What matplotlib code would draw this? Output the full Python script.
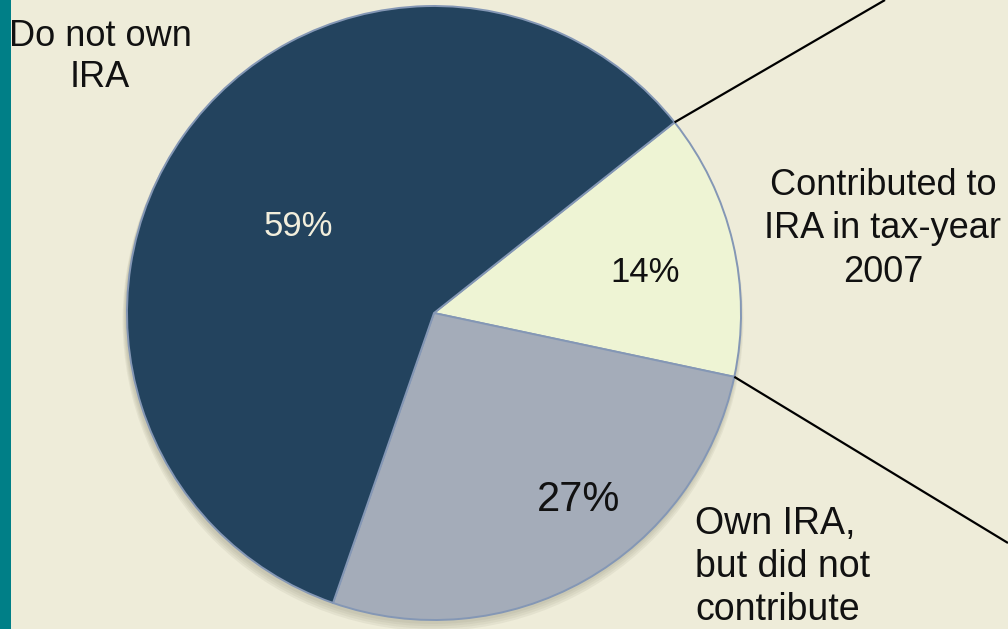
import numpy as np
import matplotlib.pyplot as plt
from matplotlib.patches import Rectangle, Circle

plt.rcParams['font.family'] = ['Liberation Sans', 'DejaVu Sans']

# IRA ownership / contribution shares (%)
labels = ["Contributed to\nIRA in tax-year\n2007", "Own IRA,\nbut did not\ncontribute", "Do not own\nIRA"]
shares = [14, 27, 59]
colors = ['#EEF4D4', '#A4ACB9', '#23435E']
pct_colors = ['#111111', '#111111', '#F2EEDC']
pct_sizes = [25, 30, 25]

W, H = 1008, 629
bg = '#EEECD9'

fig = plt.figure(figsize=(W / 100, H / 100), dpi=100)
fig.patch.set_facecolor(bg)
ax = fig.add_axes([0, 0, 1, 1])
ax.set_facecolor(bg)

cx, cy, r = 434, H - 313, 307

# soft shadow under the pie
for k, a in enumerate([0.05, 0.05, 0.05, 0.06]):
    ax.add_patch(Circle((cx - 1, cy - 3 - k * 1.5), r + 1 + k * 0.8,
                        color='#3a3a20', alpha=a, lw=0, zorder=1))

wedges, _ = ax.pie(shares, colors=colors, startangle=38.4, counterclock=False,
                   center=(cx, cy), radius=r,
                   wedgeprops=dict(edgecolor='#8497B5', linewidth=1.4))
for w in wedges:
    w.set_zorder(2)

ax.set_xlim(0, W)
ax.set_ylim(0, H)
ax.set_aspect('equal')
ax.axis('off')

# percentage labels inside the slices
pct_pos = [(645, 272), (579, 500), (298, 226)]
for s, (px, py), c, fs in zip(shares, pct_pos, pct_colors, pct_sizes):
    ax.text(px, H - py, '%d%%' % s, ha='center', va='center', fontsize=fs,
            color=c, zorder=5)

# category labels
ax.text(883, H - 229, labels[0], ha='center', va='center', fontsize=26,
        color='#111111', linespacing=1.32, zorder=5)
ax.text(695, H - 567, labels[1], ha='left', va='center', fontsize=27,
        color='#111111', linespacing=1.26, zorder=5)
ax.text(100, H - 57, labels[2], ha='center', va='center', fontsize=26,
        color='#111111', linespacing=1.24, zorder=5)

# connector lines from the 14% slice edges out to the breakdown chart
w = wedges[0]
ends = [(w.theta2, (885, 0)), (w.theta1, (1008, 543))]
for th, (ex, ey) in ends:
    sx = cx + r * np.cos(np.radians(th))
    sy = cy + r * np.sin(np.radians(th))
    ax.plot([sx, ex], [sy, H - ey], color='black', lw=1.6, zorder=4,
            solid_capstyle='butt')

# teal strip along the left edge
ax.add_patch(Rectangle((0, 0), 11, H, color='#007F87', lw=0, zorder=6))

plt.savefig('out.png', dpi=100, facecolor=bg)
